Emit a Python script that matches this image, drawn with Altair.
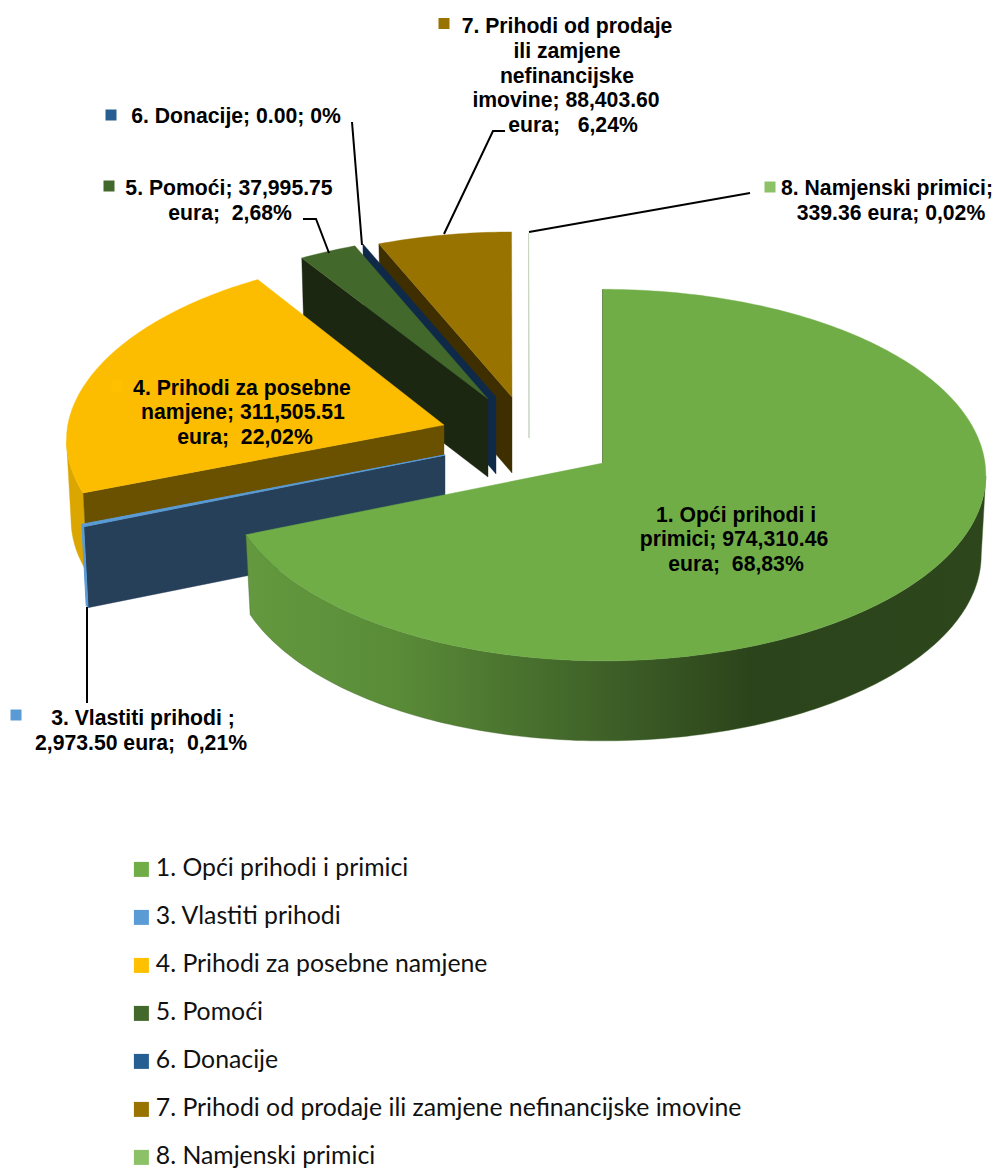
import math
import altair as alt
import pandas as pd

categories = ["1. Opći prihodi i primici", "3. Vlastiti prihodi", "4. Prihodi za posebne namjene",
              "5. Pomoći", "6. Donacije", "7. Prihodi od prodaje ili zamjene nefinancijske imovine",
              "8. Namjenski primici"]
amounts = [974310.46, 2973.50, 311505.51, 37995.75, 0.00, 88403.60, 339.36]
shares = [68.83, 0.21, 22.02, 2.68, 0.0, 6.24, 0.02]
legend_colors = ["#70ad47", "#5b9bd5", "#ffc000", "#43682b", "#255e91", "#997300", "#8cc168"]

# pie geometry, in picture coordinates
RX, RY, PERSP = 382.0, 185.0, 0.065
BOTTOM_X = 0.988
pieces = {
    0: dict(apex=(603, 463), sx=1.00, sy=1.00, d=80, pf=0.065, pb=0.065, left=0.985),
    1: dict(apex=(445, 455), sx=1.014, sy=1.00, d=81, pf=0.02, pb=0.09, left=1.0),
    2: dict(apex=(444, 425), sx=0.985, sy=0.98, d=80, pf=0.08, pb=0.09, left=1.0),
    3: dict(apex=(488, 399), sx=0.985, sy=0.95, d=78, pf=0.02, pb=0.09, left=1.0),
    4: dict(apex=(496, 397), sx=0.985, sy=0.95, d=77, pf=0.02, pb=0.09, left=1.0),
    5: dict(apex=(512, 397), sx=0.985, sy=0.95, d=76, pf=0.02, pb=0.09, left=1.0),
    6: dict(apex=(529, 398), sx=0.985, sy=0.95, d=40, pf=0.02, pb=0.09, left=1.0),
}

angles, acc = [], 0.0
for sh in shares:
    angles.append((acc * 3.6, (acc + sh) * 3.6))
    acc += sh


def pt(deg, p, low=False):
    t = math.radians(deg)
    X, Y = math.sin(t), -math.cos(t)
    ax, ay = p["apex"]
    px = p["pf"] if Y > 0 else p["pb"]
    dx = p["sx"] * RX * X / (1 - px * Y)
    if X < 0:
        dx *= p["left"]
    dy = p["sy"] * RY * Y / (1 - PERSP * Y)
    if low:
        return ax + dx * BOTTOM_X, ay + dy + p["d"]
    return ax + dx, ay + dy


def arc(a0, a1, p, low=False):
    n = max(2, int(abs(a1 - a0)) + 2)
    return [pt(a0 + (a1 - a0) * i / (n - 1), p, low) for i in range(n)]


X = alt.X("x:Q", scale=alt.Scale(domain=[8, 994], nice=False, zero=False), axis=None)
Y = alt.Y("y:Q", scale=alt.Scale(domain=[1169, 8], nice=False, zero=False), axis=None)


def poly(points, fill, stroke=None, sw=0.4, closed=True):
    pts = list(points) + ([points[0]] if closed else [])
    df = pd.DataFrame([{"x": a, "y": b, "i": i} for i, (a, b) in enumerate(pts)])
    return alt.Chart(df).mark_line(
        fill=fill, stroke=stroke or (fill if isinstance(fill, str) else "#3f6228"), strokeWidth=sw
    ).encode(x=X, y=Y, order=alt.Order("i:Q"))


def top(i, fill, stroke=None, sw=0.4):
    p = pieces[i]
    a0, a1 = angles[i]
    return poly([p["apex"]] + arc(a0, a1, p), fill, stroke, sw)


def wall(i, a0, a1, fill, stroke=None, sw=0.4):
    p = pieces[i]
    return poly(arc(a0, a1, p) + arc(a1, a0, p, True), fill, stroke, sw)


def face(i, deg, fill, stroke=None, sw=0.4):
    p = pieces[i]
    ax, ay = p["apex"]
    return poly([pt(deg, p), p["apex"], (ax, ay + p["d"]), pt(deg, p, True)], fill, stroke, sw)


legend_df = pd.DataFrame({"x": [700] * 7, "y": [450] * 7, "cat": categories, "amount": amounts})
legend_layer = alt.Chart(legend_df).mark_square(size=10).encode(
    x=X, y=Y,
    color=alt.Color("cat:N", scale=alt.Scale(domain=categories, range=legend_colors),
                    sort=categories,
                    legend=alt.Legend(orient="none", legendX=121, legendY=849, title=None,
                                      symbolType="square", symbolSize=225, symbolStrokeWidth=0,
                                      labelFont="Lato", labelFontSize=24.8, labelColor="#111111",
                                      labelOffset=2, rowPadding=22, labelLimit=800,
                                      symbolOpacity=1)),
)

green_grad = alt.LinearGradient(gradient="linear", x1=0, x2=1, y1=0, y2=0, stops=[
    alt.GradientStop(offset=0, color="#64993f"),
    alt.GradientStop(offset=0.2, color="#5a8c38"),
    alt.GradientStop(offset=0.47, color="#406329"),
    alt.GradientStop(offset=0.68, color="#2c441b"),
    alt.GradientStop(offset=1, color="#2d461c"),
])

layers = [legend_layer]
# 8 Namjenski primici: white slice with a faint edge
layers += [face(6, angles[6][0], "#ffffff", "#c9d6c2", 1.0)]
# 7
layers += [face(5, angles[5][0], "#3f2f00"), top(5, "#997300")]
# 6 (zero share: only its cut face shows)
layers += [face(4, angles[4][0], "#0f2a48")]
# 5
layers += [face(3, angles[3][0], "#1b2711"), top(3, "#43682b")]
# 4
layers += [wall(2, angles[2][0], 265, "#dca600"), face(2, angles[2][0], "#6a5100"), top(2, "#fcbd00")]
# 3
layers += [face(1, angles[1][0], "#27405a"), wall(1, angles[1][0], angles[1][1], "#5b9bd5", "#5b9bd5", 1.0),
           top(1, "#5b9bd5", "#5b9bd5", 1.0)]
# 1
layers += [wall(0, 94, angles[0][1], green_grad),
           poly([pt(0, pieces[0]), pieces[0]["apex"]], "#44692d", "#44692d", 1.6, closed=False),
           top(0, "#70ad47")]

# leader lines
leaders = [
    [(444, 234), (493, 131), (505, 131)],
    [(352, 122), (362, 245)],
    [(303, 219), (316, 219), (329, 253)],
    [(87, 607), (87, 703)],
    [(529, 232), (750, 193)],
]
for ld in leaders:
    layers.append(poly(ld, "transparent", "#000000", 2.0, closed=False))

# keys next to the data labels
key_df = pd.DataFrame({"x": [444, 111, 109, 16, 770, 117], "y": [23.5, 115, 186, 715, 187, 386],
                       "c": ["#997300", "#255e91", "#43682b", "#5b9bd5", "#8cc168", "#ffc000"]})
layers.append(alt.Chart(key_df).mark_square(size=121, opacity=1).encode(
    x=X, y=Y, color=alt.Color("c:N", scale=None)))

label_x = [567, 567, 567, 566, 573, 236, 229, 230, 887, 891, 242, 243, 245, 736, 734, 736, 143, 141]
label_y = [27, 52, 77, 101, 126, 117, 189, 214, 189, 214, 389, 413, 438, 516, 540, 565, 719, 744]
label_text = ["7. Prihodi od prodaje", "ili zamjene", "nefinancijske", "imovine; 88,403.60",
              "eura;\u00a0\u00a0 6,24%", "6. Donacije; 0.00; 0%", "5. Pomoći; 37,995.75",
              "eura;\u00a0 2,68%", "8. Namjenski primici;", "339.36 eura; 0,02%",
              "4. Prihodi za posebne", "namjene; 311,505.51", "eura;\u00a0 22,02%",
              "1. Opći prihodi i", "primici; 974,310.46", "eura;\u00a0 68,83%",
              "3. Vlastiti prihodi ;", "2,973.50 eura;\u00a0 0,21%"]
text_df = pd.DataFrame({"x": label_x, "y": label_y, "t": label_text})
layers.append(alt.Chart(text_df).mark_text(
    font="Liberation Sans", fontWeight="bold", fontSize=21.2, color="#000000",
    align="center", baseline="middle").encode(x=X, y=Y, text="t:N"))

chart = alt.layer(*layers).properties(width=986, height=1161, padding=0,
                                      autosize=alt.AutoSizeParams(type="none")
                                      ).configure_view(stroke=None)
chart.save("out.html", embed_options={"renderer": "svg", "actions": False})
